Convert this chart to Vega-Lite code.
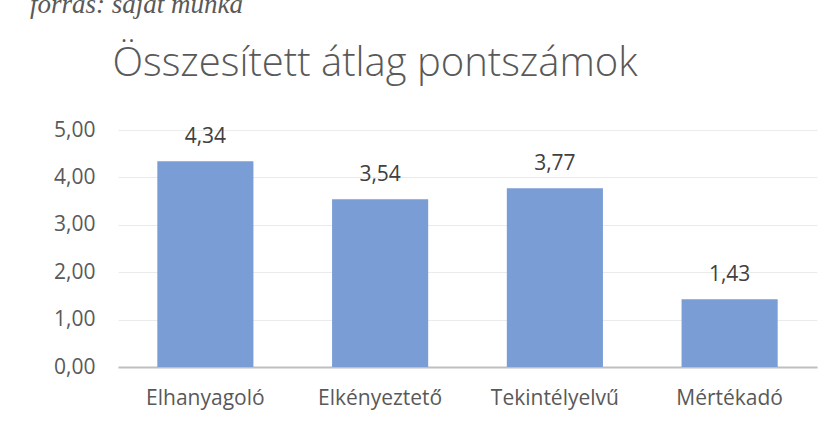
{
  "$schema": "https://vega.github.io/schema/vega-lite/v6.json",
  "width": 699,
  "height": 237,
  "autosize": "none",
  "padding": {"left": 118, "top": 130, "right": 9, "bottom": 71},
  "background": "white",
  "data": {"values": [
    {"kategoria": "Elhanyagoló", "atlag": 4.34, "cimke": "4,34"},
    {"kategoria": "Elkényeztető", "atlag": 3.54, "cimke": "3,54"},
    {"kategoria": "Tekintélyelvű", "atlag": 3.77, "cimke": "3,77"},
    {"kategoria": "Mértékadó", "atlag": 1.43, "cimke": "1,43"}
  ]},
  "title": {
    "text": "forrás: saját munka",
    "anchor": "start",
    "frame": "group",
    "dx": -88,
    "offset": 3,
    "baseline": "alphabetic",
    "font": "Liberation Serif",
    "fontStyle": "italic",
    "fontWeight": "normal",
    "fontSize": 27,
    "color": "#595959"
  },
  "encoding": {
    "x": {
      "field": "kategoria",
      "type": "nominal",
      "sort": null,
      "scale": {"paddingInner": 0.45, "paddingOuter": 0.225},
      "axis": {
        "title": null,
        "labelAngle": 0,
        "labelFont": "Open Sans",
        "labelFontSize": 21,
        "labelColor": "#595959",
        "labelPadding": 20,
        "ticks": false,
        "domainColor": "#bfbfbf",
        "domainWidth": 2,
        "grid": false
      }
    },
    "y": {
      "field": "atlag",
      "type": "quantitative",
      "scale": {"domain": [0, 5]},
      "axis": {
        "title": "Összesített átlag pontszámok",
        "titleAngle": 0,
        "titleAlign": "left",
        "titleBaseline": "alphabetic",
        "titleX": -6,
        "titleY": -55,
        "titleFont": "Open Sans",
        "titleFontWeight": 300,
        "titleFontSize": 40,
        "titleColor": "#595959",
        "values": [0, 1, 2, 3, 4, 5],
        "labelExpr": "replace(format(datum.value, '.2f'), '.', ',')",
        "labelFont": "Open Sans",
        "labelFontSize": 21,
        "labelColor": "#595959",
        "labelPadding": 23,
        "ticks": false,
        "domain": false,
        "gridColor": "#ebebeb",
        "gridWidth": 1
      }
    }
  },
  "layer": [
    {"mark": {"type": "bar", "color": "#7a9dd6"}},
    {
      "mark": {"type": "text", "baseline": "alphabetic", "dy": -18, "font": "Open Sans", "fontSize": 21, "color": "#404040"},
      "encoding": {"text": {"field": "cimke"}}
    }
  ],
  "config": {"view": {"stroke": null}}
}
